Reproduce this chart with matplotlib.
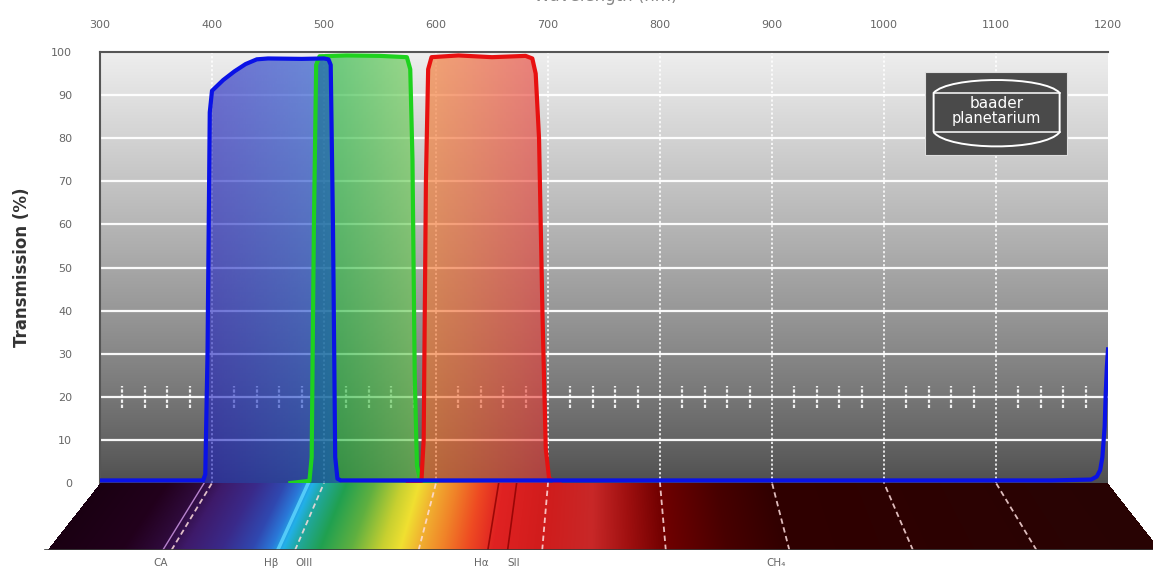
import numpy as np
import matplotlib
matplotlib.use("Agg")
import matplotlib.pyplot as plt
from matplotlib.colors import to_rgb
from matplotlib.patches import Rectangle, PathPatch
from matplotlib.path import Path

# ---------------- data ----------------
blue_nm = [300, 392, 394, 396, 398, 400, 410, 420, 430, 440, 450, 480, 500, 504, 506, 508, 510, 512, 515,
           600, 800, 1000, 1150, 1185, 1190, 1193, 1195, 1197, 1198, 1199, 1200]
blue_t = [0.6, 0.6, 2, 30, 86, 91, 93.5, 95.5, 97.2, 98.3, 98.5, 98.4, 98.5, 98.3, 97, 60, 6, 1, 0.6,
          0.6, 0.6, 0.6, 0.6, 0.8, 1.5, 3, 6, 13, 21, 27, 31]

green_nm = [470, 487, 489, 491, 493, 496, 520, 550, 574, 577, 579, 581, 583, 586, 600]
green_t = [0, 0.5, 6, 60, 97, 99, 99.2, 99.1, 98.8, 96, 75, 25, 4, 0.5, 0]

red_nm = [575, 587, 589, 591, 593, 596, 620, 650, 680, 686, 689, 692, 695, 698, 701, 710]
red_t = [0, 0.5, 10, 70, 96, 98.8, 99.2, 98.8, 99.1, 98.5, 95, 80, 40, 8, 1, 0]

x_ticks = [300, 400, 500, 600, 700, 800, 900, 1000, 1100, 1200]
y_ticks = [0, 10, 20, 30, 40, 50, 60, 70, 80, 90, 100]

# spectrum colour stops (nm -> colour)
spec_nm = [300, 360, 390, 410, 440, 465, 480, 490, 500, 520, 545, 570, 585, 600, 620, 640, 660,
           700, 740, 770, 800, 850, 900, 1200]
spec_col = ["#1a0012", "#22001c", "#2e0a3a", "#3e1a6a", "#3a2a8a", "#3048b0", "#2a78d8", "#22b0e8",
            "#20a8a0", "#20a050", "#60b040", "#c8d030", "#f0e030", "#f0b030", "#f08028", "#ee4a22",
            "#e02222", "#d01c1c", "#c82828", "#a01010", "#700000", "#480000", "#300000", "#280404"]

line_names = ["CA", "Hβ", "OIII", "Hα", "SII", "CH₄"]
line_nm = [393, 486, 501, 656, 672, 889]
label_nm = [391, 481, 507, 651, 677, 889]

# ---------------- figure ----------------
W, H = 1153, 578
fig = plt.figure(figsize=(W / 100, H / 100), dpi=100)
ax = fig.add_axes([100 / W, 1 - 483 / H, 1008 / W, 431 / H])

# background gradient
grad = np.linspace(0, 1, 256).reshape(-1, 1)
bot = np.array(to_rgb("#4e4e4e"))
top = np.array(to_rgb("#eeeeee"))
bg = bot + (top - bot) * grad[..., None] ** 0.85
ax.imshow(bg, extent=[300, 1200, 0, 100], aspect="auto", origin="lower", zorder=0,
          interpolation="bilinear")

# grid
for y in y_ticks[1:-1]:
    ax.axhline(y, color="white", lw=1.6, zorder=1, alpha=0.95)
for x in x_ticks[1:-1]:
    ax.axvline(x, color="white", lw=1.3, ls=(0, (1.2, 1.2)), zorder=1, alpha=0.9)
# ruler on 20% line
for x in range(320, 1200, 20):
    if x % 100:
        ax.plot([x, x], [17.5, 22.5], color="white", lw=1.6, ls=(0, (1.5, 0.8)), zorder=1,
                alpha=0.9, solid_capstyle="butt")


def draw_filter(nm, t, c_left, c_right, x0, x1, alpha, zorder):
    nm = np.asarray(nm, float)
    t = np.asarray(t, float)
    sel = (nm >= x0) & (nm <= x1)
    coll = ax.fill_between(nm[sel], 0, t[sel], facecolor="none", edgecolor="none", zorder=zorder)
    path = coll.get_paths()[0]
    n = 200
    f = np.linspace(0, 1, n)
    cl, cr = np.array(to_rgb(c_left)), np.array(to_rgb(c_right))
    rgb = cl[None, :] + (cr - cl)[None, :] * f[:, None]
    img = np.zeros((1, n, 4))
    img[0, :, :3] = rgb
    img[0, :, 3] = alpha
    im = ax.imshow(img, extent=[x0, x1, 0, 100], aspect="auto", zorder=zorder,
                   interpolation="bilinear")
    im.set_clip_path(path, transform=ax.transData)


draw_filter(green_nm, green_t, "#0caf36", "#6ccc50", 487, 586, 0.62, 2)
draw_filter(red_nm, red_t, "#f57a2a", "#e63838", 587, 701, 0.62, 2)
draw_filter(blue_nm, blue_t, "#1c1cbf", "#1450cc", 392, 515, 0.6, 2.5)

ax.plot(green_nm, green_t, color="#1ed21e", lw=3, zorder=4, solid_joinstyle="round")
ax.plot(red_nm, red_t, color="#e81010", lw=3, zorder=4, solid_joinstyle="round")
ax.plot(blue_nm, blue_t, color="#0a12e6", lw=3, zorder=5, solid_joinstyle="round")

ax.set_xlim(300, 1200)
ax.set_ylim(0, 100)
ax.xaxis.tick_top()
ax.set_xticks(x_ticks)
ax.set_yticks(y_ticks)
ax.tick_params(length=0, labelsize=8, colors="#666666")
ax.tick_params(axis="x", pad=16)
ax.tick_params(axis="y", pad=20)
for s in ["right", "bottom"]:
    ax.spines[s].set_visible(False)
for s in ["left", "top"]:
    ax.spines[s].set_color("#555555")
    ax.spines[s].set_linewidth(1.5)

fig.text(0.019, 0.538, "Transmission (%)", rotation=90, ha="center", va="center",
         fontsize=12, fontweight="bold", color="#333333")
fig.text(606 / W, 1 + 4 / H, "Wavelength (nm)", ha="center", va="center",
         fontsize=12, color="#888888")

# logo
ax.add_patch(Rectangle((0.818, 0.761), 0.141, 0.193, transform=ax.transAxes,
                       facecolor="#4a4a4a", edgecolor="#dddddd", lw=0.8, zorder=6))
xl, xr, xc = 0.827, 0.952, 0.8895
yt, ym1, ym2, yb = 0.945, 0.905, 0.814, 0.770
verts = [(xl, ym2), (xl, ym1), (xl + 0.015, yt), (xr - 0.015, yt), (xr, ym1), (xr, ym2),
         (xr - 0.015, yb), (xl + 0.015, yb), (xl, ym2)]
codes = [Path.MOVETO, Path.LINETO, Path.CURVE4, Path.CURVE4, Path.CURVE4, Path.LINETO,
         Path.CURVE4, Path.CURVE4, Path.CURVE4]
ax.add_patch(PathPatch(Path(verts, codes), transform=ax.transAxes, facecolor="none",
                       edgecolor="white", lw=1.4, zorder=7))
ax.plot([xl, xr], [ym1, ym1], transform=ax.transAxes, color="white", lw=1.1, zorder=7)
ax.plot([xl, xr], [ym2, ym2], transform=ax.transAxes, color="white", lw=1.1, zorder=7)
ax.text(xc, 0.880, "baader", transform=ax.transAxes, ha="center", va="center",
        fontsize=11, color="white", zorder=8)
ax.text(xc, 0.846, "planetarium", transform=ax.transAxes, ha="center", va="center",
        fontsize=10.5, color="white", zorder=8)

# ---------------- spectrum band ----------------
fig.canvas.draw()
p300 = ax.transData.transform((300, 0))[0]
p1200 = ax.transData.transform((1200, 0))[0]
bt = (p1200 - p300) / 900.0
b0, bb = 48.0, (1160.0 - 48.0) / 900.0

ax2 = fig.add_axes([0, 1 - 550 / H, 1, 67 / H])
ax2.set_xlim(0, W)
ax2.set_ylim(0, 1)
ax2.axis("off")

xs = np.arange(W) + 0.5
vs = np.linspace(0, 1, 67)
X, V = np.meshgrid(xs, vs)
x0 = b0 * (1 - V) + p300 * V
sc = bb * (1 - V) + bt * V
lam = 300 + (X - x0) / sc
cols = np.array([to_rgb(c) for c in spec_col])
img = np.zeros(lam.shape + (4,))
for k in range(3):
    img[..., k] = np.interp(lam, spec_nm, cols[:, k])
img[..., 3] = ((lam >= 300) & (lam <= 1200)).astype(float)
ax2.imshow(img, extent=[0, W, 0, 1], aspect="auto", origin="lower", interpolation="nearest")


def xb(l):
    return b0 + (l - 300) * bb


def xt(l):
    return p300 + (l - 300) * bt


for l in x_ticks[1:-1]:
    ax2.plot([xb(l), xt(l)], [0, 1], color="#ffdede", lw=1.3, ls=(0, (3, 2)), alpha=0.85)

line_cols = ["#d8a0f0", "#60d8ff", "#60d8ff", "#8a0000", "#8a0000"]
line_w = [1.0, 2.5, 0.0, 1.2, 1.2]
for l, c, w in zip(line_nm[:5], line_cols, line_w):
    if w > 0:
        ax2.plot([xb(l), xt(l)], [0, 1], color=c, lw=w, alpha=0.8)

ax2.plot([45, W], [0, 0], color="#3a3a3a", lw=1.2)

for name, l in zip(line_names, label_nm):
    fig.text(xb(l) / W, 1 - 563 / H, name, ha="center", va="center", fontsize=7.5,
             color="#666666")

fig.savefig("out.png", dpi=100)
